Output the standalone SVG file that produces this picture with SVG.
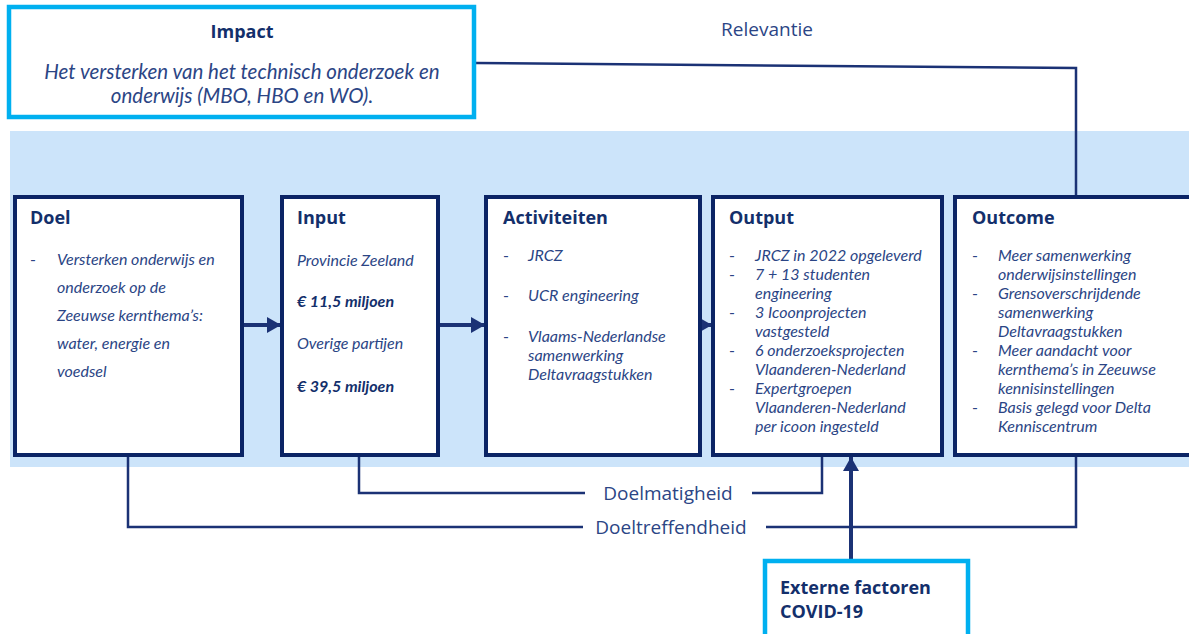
<svg xmlns="http://www.w3.org/2000/svg" width="1189" height="634" viewBox="0 0 1189 634">
  <defs>
    <style>
      .band { fill: #CCE4FA; }
      .box { fill: #FFFFFF; stroke: #0B2465; stroke-width: 4; }
      .cbox { fill: #FFFFFF; stroke: #00B0F0; stroke-width: 4.5; }
      .title { font-family: "Open Sans", "Noto Sans", sans-serif; font-weight: 700; font-size: 18px; fill: #132F6B; }
      .body { font-family: "Lato", "Open Sans", sans-serif; font-style: italic; font-size: 16px; fill: #2B4585; }
      .bold { font-weight: 700; fill: #132F6B; }
      .dash { font-family: "Lato", sans-serif; font-size: 16px; fill: #2B4585; }
      .label { font-family: "Open Sans", "Noto Sans", sans-serif; font-size: 19px; fill: #2B4585; }
      .imp { font-family: "Lato", "Open Sans", sans-serif; font-style: italic; font-size: 20.5px; fill: #2B4585; }
      .conn { fill: none; stroke: #1B3275; stroke-width: 2.5; }
      .thick { fill: none; stroke: #1B3275; stroke-width: 4; }
    </style>
    <marker id="ah" markerUnits="userSpaceOnUse" markerWidth="14" markerHeight="16" refX="14" refY="8" orient="auto">
      <path d="M0,0 L14,8 L0,16 Z" fill="#1B3275"/>
    </marker>
  </defs>

  <rect class="band" x="10" y="131" width="1185" height="336"/>

  <g id="connectors">
    <polyline class="conn" points="476,63 1076,68 1076,197"/>
    <polyline class="conn" points="359,455 359,493 585,493"/>
    <polyline class="conn" points="752,493 822,493 822,455"/>
    <polyline class="conn" points="128,455 128,527 583,527"/>
    <polyline class="conn" points="766,527 1076,527 1076,455"/>
    <line class="thick" x1="242" y1="325" x2="281" y2="325" marker-end="url(#ah)"/>
    <line class="thick" x1="438" y1="325" x2="485" y2="325" marker-end="url(#ah)"/>
    <line class="thick" x1="700" y1="325" x2="712" y2="325" marker-end="url(#ah)"/>
    <line class="thick" x1="851" y1="560" x2="851" y2="457" marker-end="url(#ah)"/>
    <text class="label" x="767" y="36" text-anchor="middle">Relevantie</text>
    <text class="label" x="668" y="500" text-anchor="middle">Doelmatigheid</text>
    <text class="label" x="671" y="534" text-anchor="middle">Doeltreffendheid</text>
  </g>

  <g id="impact">
    <rect class="cbox" x="9" y="7" width="465" height="110"/>
    <text class="title" x="242" y="38" text-anchor="middle">Impact</text>
    <text class="imp" x="242" y="79" text-anchor="middle">Het versterken van het technisch onderzoek en</text>
    <text class="imp" x="242" y="103" text-anchor="middle">onderwijs (MBO, HBO en WO).</text>
  </g>

  <g id="doel">
    <rect class="box" x="15" y="197" width="227" height="258"/>
    <text class="title" x="30" y="224">Doel</text>
    <text class="dash" x="30" y="265">-</text>
    <text class="body" x="57" y="265">Versterken onderwijs en</text>
    <text class="body" x="57" y="293">onderzoek op de</text>
    <text class="body" x="57" y="321">Zeeuwse kernthema’s:</text>
    <text class="body" x="57" y="349">water, energie en</text>
    <text class="body" x="57" y="377">voedsel</text>
  </g>

  <g id="input">
    <rect class="box" x="282" y="197" width="156" height="258"/>
    <text class="title" x="297" y="224">Input</text>
    <text class="body" x="297" y="266">Provincie Zeeland</text>
    <text class="body bold" x="297" y="307">€ 11,5 miljoen</text>
    <text class="body" x="297" y="349">Overige partijen</text>
    <text class="body bold" x="297" y="392">€ 39,5 miljoen</text>
  </g>

  <g id="activiteiten">
    <rect class="box" x="486" y="197" width="214" height="258"/>
    <text class="title" x="503" y="224">Activiteiten</text>
    <text class="dash" x="503" y="261">-</text>
    <text class="body" x="528" y="261">JRCZ</text>
    <text class="dash" x="503" y="301">-</text>
    <text class="body" x="528" y="301">UCR engineering</text>
    <text class="dash" x="503" y="342">-</text>
    <text class="body" x="528" y="342">Vlaams-Nederlandse</text>
    <text class="body" x="528" y="361">samenwerking</text>
    <text class="body" x="528" y="380">Deltavraagstukken</text>
  </g>

  <g id="output">
    <rect class="box" x="713" y="197" width="229" height="258"/>
    <text class="title" x="729" y="224">Output</text>
    <text class="dash" x="729" y="261">-</text>
    <text class="body" x="755" y="261">JRCZ in 2022 opgeleverd</text>
    <text class="dash" x="729" y="280">-</text>
    <text class="body" x="755" y="280">7 + 13 studenten</text>
    <text class="body" x="755" y="299">engineering</text>
    <text class="dash" x="729" y="318">-</text>
    <text class="body" x="755" y="318">3 Icoonprojecten</text>
    <text class="body" x="755" y="337">vastgesteld</text>
    <text class="dash" x="729" y="356">-</text>
    <text class="body" x="755" y="356">6 onderzoeksprojecten</text>
    <text class="body" x="755" y="375">Vlaanderen-Nederland</text>
    <text class="dash" x="729" y="394">-</text>
    <text class="body" x="755" y="394">Expertgroepen</text>
    <text class="body" x="755" y="413">Vlaanderen-Nederland</text>
    <text class="body" x="755" y="432">per icoon ingesteld</text>
  </g>

  <g id="outcome">
    <rect class="box" x="955" y="197" width="240" height="258"/>
    <text class="title" x="972" y="224">Outcome</text>
    <text class="dash" x="972" y="261">-</text>
    <text class="body" x="998" y="261">Meer samenwerking</text>
    <text class="body" x="998" y="280">onderwijsinstellingen</text>
    <text class="dash" x="972" y="299">-</text>
    <text class="body" x="998" y="299">Grensoverschrijdende</text>
    <text class="body" x="998" y="318">samenwerking</text>
    <text class="body" x="998" y="337">Deltavraagstukken</text>
    <text class="dash" x="972" y="356">-</text>
    <text class="body" x="998" y="356">Meer aandacht voor</text>
    <text class="body" x="998" y="375">kernthema’s in Zeeuwse</text>
    <text class="body" x="998" y="394">kennisinstellingen</text>
    <text class="dash" x="972" y="413">-</text>
    <text class="body" x="998" y="413">Basis gelegd voor Delta</text>
    <text class="body" x="998" y="432">Kenniscentrum</text>
  </g>

  <g id="externe">
    <rect class="cbox" x="765" y="561" width="203" height="90"/>
    <text class="title" x="780" y="594">Externe factoren</text>
    <text class="title" x="780" y="618">COVID-19</text>
  </g>
</svg>
